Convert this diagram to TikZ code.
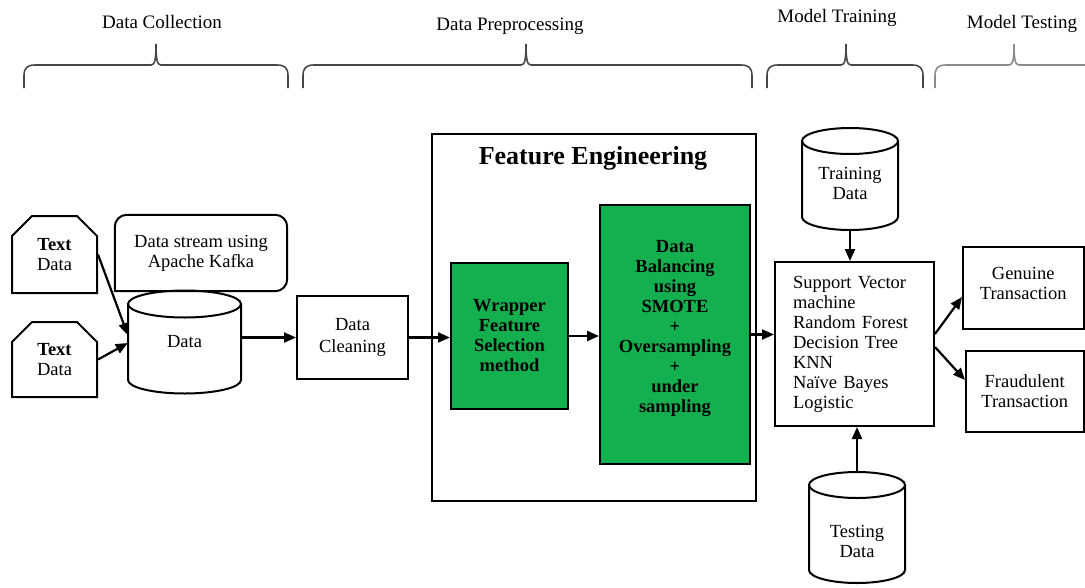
\documentclass[tikz,border=0pt]{standalone}
\usepackage{fontspec}
\setmainfont{Liberation Serif}
\usetikzlibrary{arrows.meta,calc,shapes.misc}
\definecolor{fegreen}{RGB}{20,176,80}
\newcommand\phasebrace[4]{%
  \draw[brace,#4] (#1,-88) -- (#1,-76) .. controls (#1,-68) and ({#1+3},-65) .. ({#1+11},-65)
    -- ({#2-5},-65) .. controls ({#2-1},-65) and (#2,-59) .. (#2,-44)
    .. controls (#2,-59) and ({#2+1},-65) .. ({#2+5},-65)
    -- ({#3-11},-65) .. controls ({#3-3},-65) and (#3,-68) .. (#3,-76) -- (#3,-88);}
\newcommand\cylshape[5]{%
  \draw[cyl] ({#1-#2},-#3) -- ({#1-#2},-#4) arc[start angle=180,end angle=360,x radius=#2,y radius=#5] -- ({#1+#2},-#3);
  \draw[cyl] (#1,-#3) ellipse[x radius=#2,y radius=#5];}
\begin{document}
\begin{tikzpicture}[x=1pt,y=1pt,
  every node/.style={font=\fontsize{18.5}{20}\selectfont},
  box/.style={draw, line width=2pt, inner sep=4pt, align=center},
  greenbox/.style={box, fill=fegreen, font=\fontsize{18.5}{20}\selectfont\bfseries},
  flow/.style={line width=2.2pt, -{Triangle[length=12pt,width=10pt]}},
  cyl/.style={line width=2pt},
  brace/.style={line width=1.6pt, draw=black!72},
  head/.style={font=\fontsize{19}{22}\selectfont, anchor=base},
  tdbox/.style={box, chamfered rectangle, chamfered rectangle corners={north west,north east},
    chamfered rectangle xsep=10pt, chamfered rectangle ysep=10pt}]
\useasboundingbox (0,0) rectangle (1085,-587);
% phase braces and headings
\phasebrace{24}{156}{288}{}
\phasebrace{303}{526}{752}{}
\phasebrace{767}{846}{923}{}
\phasebrace{935}{1014}{1096}{draw=black!45}
\node[head] (hcol) at (162,-28) {Data Collection};
\node[head] (hpre) at (510,-30) {Data Preprocessing};
\node[head] (htrain) at (837,-22) {Model Training};
\node[head] (htest) at (1022,-28) {Model Testing};
% data collection
\node[tdbox, minimum width=85, minimum height=77] (td1) at (54.5,-254.5) {\textbf{Text}\\Data};
\node[tdbox, minimum width=85, minimum height=75] (td2) at (54.5,-359.5) {\textbf{Text}\\Data};
\node[align=center, minimum width=172, minimum height=76] (kafka) at (201,-253) {Data stream using\\Apache Kafka};
\draw[cyl] (kafka.south) [rounded corners=12pt] -- (kafka.south east) -- (kafka.north east) -- (kafka.north west) -- (kafka.west) [sharp corners] -- (kafka.south west) -- cycle;
\cylshape{184.5}{56.5}{304}{380}{13.5}
\node[minimum width=113, minimum height=103, inner sep=0pt] (data) at (184.5,-342) {Data};
% preprocessing
\node[box, minimum width=111, minimum height=83, font=\fontsize{18.5}{22}\selectfont] (clean) at (352.5,-337.5) {Data\\Cleaning};
\node[box, minimum width=324, minimum height=367] (fe) at (594,-317.5) {};
\node[font=\fontsize{26}{30}\selectfont\bfseries] (fetitle) at (593,-158) {Feature Engineering};
\node[greenbox, minimum width=117, minimum height=146] (wrap) at (509.5,-336) {Wrapper\\Feature\\Selection\\method};
\node[greenbox, minimum width=150, minimum height=259, text depth=16pt] (bal) at (675,-334.5) {Data\\Balancing\\using\\SMOTE\\+\\Oversampling\\+\\under\\sampling};
% training
\cylshape{850}{48}{141}{217}{13}
\node[align=center, minimum width=96, minimum height=94, inner sep=0pt] (train) at (850,-183) {Training\\Data};
\node[box, minimum width=159, minimum height=164, align=left, text width=123pt, inner xsep=18pt] (models) at (854.5,-344) {Support Vector\\machine\\Random Forest\\Decision Tree\\KNN\\Naïve Bayes\\Logistic};
\cylshape{857}{48}{485}{570}{13}
\node[align=center, minimum width=96, minimum height=138, inner sep=0pt] (test) at (857,-541) {Testing\\Data};
% testing
\node[box, minimum width=120.5, minimum height=82, text depth=9pt] (gen) at (1023.25,-288) {Genuine\\Transaction};
\node[box, minimum width=117.5, minimum height=81] (fraud) at (1024.75,-391.5) {Fraudulent\\Transaction};
% connectors
\draw[flow] (td1.east) -- ($(data.west)+(0,7)$);
\draw[flow] (td2.east) -- ($(data.west)+(0,-1)$);
\draw[flow] (data.east |- clean.west) -- (clean.west);
\draw[flow] (clean.east) -- (clean.east -| wrap.west);
\draw[flow] (wrap.east) -- (wrap.east -| bal.west);
\draw[flow] (bal.east) -- (bal.east -| models.west);
\draw[flow] (train.south) -- (train.south |- models.north);
\draw[flow] (test.north) -- (test.north |- models.south);
\draw[flow] ($(models.east)+(0,10)$) -- ($(gen.west)+(0,-9)$);
\draw[flow] ($(models.east)+(0,-3)$) -- ($(fraud.west)+(0,11.5)$);
\end{tikzpicture}
\end{document}
